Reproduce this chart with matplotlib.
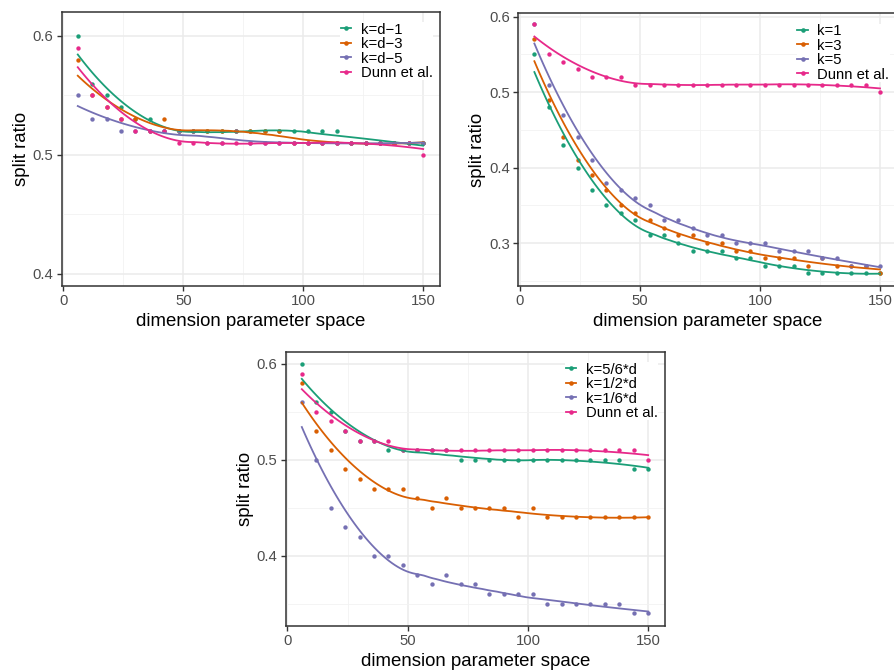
import numpy as np
import matplotlib
matplotlib.use("Agg")
import matplotlib.pyplot as plt
from matplotlib.lines import Line2D
from matplotlib.ticker import FixedLocator

plt.rcParams['font.family'] = ['Liberation Sans', 'DejaVu Sans']

# ---------------- data ----------------
dims = [6, 12, 18, 24, 30, 36, 42, 48, 54, 60, 66, 72, 78, 84, 90, 96, 102, 108, 114, 120, 126, 132, 138, 144, 150]

dunn = [0.59, 0.55, 0.54, 0.53, 0.52, 0.52, 0.52, 0.51, 0.51, 0.51, 0.51, 0.51, 0.51,
        0.51, 0.51, 0.51, 0.51, 0.51, 0.51, 0.51, 0.51, 0.51, 0.51, 0.51, 0.50]

# panel A: k = d - c
labels_a = ["k=d\u22121", "k=d\u22123", "k=d\u22125", "Dunn et al."]
kd1 = [0.60, 0.56, 0.55, 0.54, 0.53, 0.53, 0.52, 0.52, 0.52, 0.52, 0.52, 0.52, 0.52,
       0.52, 0.52, 0.52, 0.52, 0.52, 0.52, 0.51, 0.51, 0.51, 0.51, 0.51, 0.51]
kd3 = [0.58, 0.55, 0.54, 0.53, 0.53, 0.52, 0.53, 0.52, 0.52, 0.52, 0.52, 0.52, 0.52,
       0.52, 0.52, 0.51, 0.51, 0.51, 0.51, 0.51, 0.51, 0.51, 0.51, 0.51, 0.51]
kd5 = [0.55, 0.53, 0.53, 0.52, 0.52, 0.52, 0.52, 0.52, 0.52, 0.51, 0.51, 0.52, 0.51,
       0.51, 0.51, 0.51, 0.51, 0.51, 0.51, 0.51, 0.51, 0.51, 0.51, 0.51, 0.51]

# panel B: fixed k
labels_b = ["k=1", "k=3", "k=5", "Dunn et al."]
k1 = [0.55, 0.48, 0.43, 0.40, 0.37, 0.35, 0.34, 0.33, 0.31, 0.31, 0.30, 0.29, 0.29,
      0.29, 0.28, 0.28, 0.27, 0.27, 0.27, 0.26, 0.26, 0.26, 0.26, 0.26, 0.26]
k3 = [0.57, 0.49, 0.44, 0.41, 0.39, 0.37, 0.35, 0.34, 0.33, 0.32, 0.31, 0.31, 0.30,
      0.30, 0.29, 0.29, 0.28, 0.28, 0.28, 0.27, 0.28, 0.27, 0.27, 0.27, 0.26]
k5 = [0.59, 0.51, 0.47, 0.44, 0.41, 0.38, 0.37, 0.36, 0.35, 0.33, 0.33, 0.32, 0.31,
      0.31, 0.30, 0.30, 0.30, 0.29, 0.29, 0.29, 0.28, 0.28, 0.27, 0.27, 0.27]

# panel C: k proportional to d
labels_c = ["k=5/6*d", "k=1/2*d", "k=1/6*d", "Dunn et al."]
k56 = [0.60, 0.56, 0.55, 0.53, 0.52, 0.52, 0.51, 0.51, 0.51, 0.51, 0.51, 0.50, 0.50,
       0.50, 0.50, 0.50, 0.50, 0.50, 0.50, 0.50, 0.50, 0.50, 0.50, 0.49, 0.49]
k12 = [0.58, 0.53, 0.51, 0.49, 0.48, 0.47, 0.47, 0.47, 0.46, 0.45, 0.46, 0.45, 0.45,
       0.45, 0.45, 0.44, 0.45, 0.44, 0.44, 0.44, 0.44, 0.44, 0.44, 0.44, 0.44]
k16 = [0.56, 0.50, 0.45, 0.43, 0.42, 0.40, 0.40, 0.39, 0.38, 0.37, 0.38, 0.37, 0.37,
       0.36, 0.36, 0.36, 0.36, 0.35, 0.35, 0.35, 0.35, 0.35, 0.35, 0.34, 0.34]

colors = ["#1B9E77", "#D95F02", "#7570B3", "#E7298A"]


def loess(x, y, xs, span=0.75):
    x = np.asarray(x, float)
    y = np.asarray(y, float)
    n = len(x)
    q = int(np.floor(n * span))
    out = []
    for x0 in xs:
        d = np.abs(x - x0)
        h = np.sort(d)[q - 1]
        w = np.clip(1 - (d / h) ** 3, 0, 1) ** 3
        X = np.vstack([np.ones(n), x - x0, (x - x0) ** 2]).T
        sw = np.sqrt(w)
        beta, *_ = np.linalg.lstsq(X * sw[:, None], y * sw, rcond=None)
        out.append(beta[0])
    return np.array(out)


W, H = 894, 671
fig = plt.figure(figsize=(W / 100, H / 100), dpi=100)


def make_panel(box, series, labels, ylim, yticks):
    l, t, r, b = box
    ax = fig.add_axes([l / W, 1 - b / H, (r - l) / W, (b - t) / H])
    ax.set_xlim(-0.7, 157)
    ax.set_ylim(*ylim)
    ax.xaxis.set_major_locator(FixedLocator([0, 50, 100, 150]))
    ax.xaxis.set_minor_locator(FixedLocator([25, 75, 125]))
    ax.yaxis.set_major_locator(FixedLocator(yticks))
    minors = [v + 0.05 for v in yticks] + [yticks[0] - 0.05]
    ax.yaxis.set_minor_locator(FixedLocator(minors))
    ax.set_yticklabels([f"{v:.1f}" for v in yticks])
    ax.grid(which='major', color='#EBEBEB', lw=1.1, zorder=0)
    ax.grid(which='minor', color='#F2F2F2', lw=0.6, zorder=0)
    ax.set_axisbelow(True)
    for s in ax.spines.values():
        s.set_color('#333333')
        s.set_linewidth(1.1)
    ax.tick_params(which='major', length=3.6, width=1.0, color='#333333',
                   labelsize=10.7, labelcolor='#4D4D4D', pad=2.6)
    ax.tick_params(which='minor', length=0)
    xs = np.linspace(min(dims), max(dims), 120)
    for i, (ys, c) in enumerate(zip(series, colors)):
        ax.scatter(dims, ys, s=10, color=c, linewidths=0, zorder=3 + i * 0.01)
    for i, (ys, c) in enumerate(zip(series, colors)):
        ax.plot(xs, loess(dims, ys, xs), color=c, lw=1.3, zorder=4 + i * 0.01)
    ax.set_xlabel("dimension parameter space", fontsize=13.4, labelpad=3.6)
    ax.set_ylabel("split ratio", fontsize=13.4, labelpad=1.8)
    handles = [Line2D([], [], color=c, lw=1.3, marker='o', markersize=3.3,
                      markeredgewidth=0) for c in colors]
    dy = 3.5 / (b - t)
    leg = ax.legend(handles, labels, loc='upper right', bbox_to_anchor=(1, 1 - dy),
                    fontsize=10.7, frameon=True, fancybox=False, framealpha=1,
                    edgecolor='none', facecolor='white', handlelength=0.7,
                    handletextpad=0.65, labelspacing=0.03, borderpad=0.02,
                    borderaxespad=0.48, numpoints=1)
    leg.set_zorder(6)
    return ax


make_panel((61.7, 11.7, 440.0, 285.7), [kd1, kd3, kd5, dunn], labels_a,
           (0.390, 0.6204), [0.4, 0.5, 0.6])
make_panel((518.3, 13.3, 896.8, 285.7), [k1, k3, k5, dunn], labels_b,
           (0.2434, 0.6045), [0.3, 0.4, 0.5, 0.6])
make_panel((285.7, 351.7, 665.0, 625.7), [k56, k12, k16, dunn], labels_c,
           (0.327, 0.6128), [0.4, 0.5, 0.6])

fig.savefig("out.png", dpi=100, facecolor='white')
